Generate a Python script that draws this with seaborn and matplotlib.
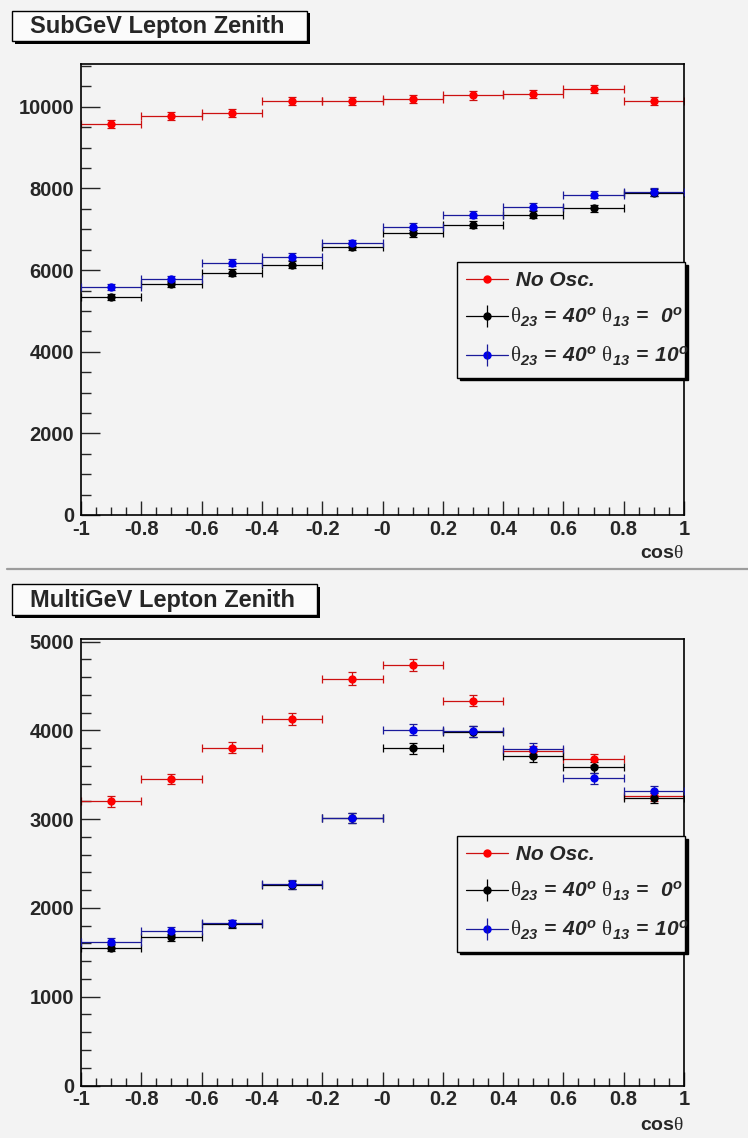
import numpy as np
import pandas as pd
import matplotlib
matplotlib.use("Agg")
import matplotlib.pyplot as plt
import seaborn as sns
from matplotlib.lines import Line2D
from matplotlib.patches import Rectangle
from matplotlib.ticker import FixedLocator, MultipleLocator, FixedFormatter
from matplotlib.font_manager import FontProperties

# ---------------- data ----------------
bin_centers = [-0.9, -0.7, -0.5, -0.3, -0.1, 0.1, 0.3, 0.5, 0.7, 0.9]
bin_half_width = 0.1
x_ticks = [-1.0, -0.8, -0.6, -0.4, -0.2, 0.0, 0.2, 0.4, 0.6, 0.8, 1.0]
x_tick_labels = ["-1", "-0.8", "-0.6", "-0.4", "-0.2", "-0", "0.2", "0.4", "0.6", "0.8", "1"]

sub_noosc = [9570, 9775, 9860, 10150, 10150, 10200, 10280, 10320, 10430, 10140]
sub_noosc_err = [98, 99, 99, 101, 101, 101, 101, 102, 102, 101]
sub_t13_0 = [5330, 5650, 5940, 6135, 6570, 6900, 7115, 7360, 7510, 7900]
sub_t13_0_err = [73, 75, 77, 78, 81, 83, 84, 86, 87, 89]
sub_t13_10 = [5590, 5780, 6185, 6330, 6660, 7060, 7360, 7550, 7850, 7915]
sub_t13_10_err = [75, 76, 79, 80, 82, 84, 86, 87, 89, 89]

multi_noosc = [3200, 3455, 3805, 4130, 4585, 4735, 4337, 3765, 3675, 3262]
multi_noosc_err = [57, 59, 62, 64, 68, 69, 66, 61, 61, 57]
multi_t13_0 = [1550, 1670, 1820, 2260, 3010, 3800, 3985, 3710, 3585, 3240]
multi_t13_0_err = [39, 41, 43, 48, 55, 62, 63, 61, 60, 57]
multi_t13_10 = [1620, 1740, 1825, 2265, 3015, 4010, 3990, 3795, 3460, 3320]
multi_t13_10_err = [40, 42, 43, 48, 55, 63, 63, 62, 59, 58]

titles = ["SubGeV Lepton Zenith", "MultiGeV Lepton Zenith"]
legend_labels = [
    " No Osc.",
    r"$\mathrm{\theta}_{\mathbf{23}}\mathbf{\,=\,40^{o}}\ \mathrm{\theta}_{\mathbf{13}}\mathbf{\,=\,\ 0^{o}}$",
    r"$\mathrm{\theta}_{\mathbf{23}}\mathbf{\,=\,40^{o}}\ \mathrm{\theta}_{\mathbf{13}}\mathbf{\,=\,10^{o}}$",
]

# ---------------- style ----------------
sns.set_style("white")
BG = "#f3f3f3"
plt.rcParams["font.family"] = ["Liberation Sans", "DejaVu Sans"]
plt.rcParams["mathtext.fontset"] = "custom"
plt.rcParams["mathtext.rm"] = "Liberation Serif"
plt.rcParams["mathtext.bf"] = "Liberation Sans:bold:italic"
plt.rcParams["mathtext.sf"] = "Liberation Sans:bold"
plt.rcParams["mathtext.it"] = "Liberation Sans:italic:bold"

W, H = 748, 1138
fig = plt.figure(figsize=(W / 100, H / 100), dpi=100, facecolor=BG)

series_colors = [("#ff0000", "#cc1010"), ("#000000", "#000000"), ("#0000ee", "#1a1a9a")]

panels = [
    dict(top=64, bottom=515, ymax=11050, major=2000, minor=500,
         series=[(sub_noosc, sub_noosc_err), (sub_t13_0, sub_t13_0_err), (sub_t13_10, sub_t13_10_err)],
         title_box=(12, 11, 307, 41), legend_top=262, xlabel_y=553),
    dict(top=639, bottom=1085.5, ymax=5030, major=1000, minor=200,
         series=[(multi_noosc, multi_noosc_err), (multi_t13_0, multi_t13_0_err), (multi_t13_10, multi_t13_10_err)],
         title_box=(12, 584, 317, 615), legend_top=836, xlabel_y=1125),
]

tick_font = FontProperties(family="Liberation Sans", weight="bold", size=14.5)
leg_font = FontProperties(family="Liberation Sans", weight="bold", style="italic", size=15)

for pi, p in enumerate(panels):
    ax = fig.add_axes([81 / W, 1 - p["bottom"] / H, 603 / W, (p["bottom"] - p["top"]) / H])
    ax.set_facecolor(BG)
    for k, (vals, errs) in enumerate(p["series"]):
        mcol, lcol = series_colors[k]
        ax.errorbar(bin_centers, vals, xerr=bin_half_width, yerr=errs, fmt="none",
                    ecolor=lcol, elinewidth=0.9, capsize=2.8, capthick=0.9, zorder=2 + k)
        df = pd.DataFrame({"x": bin_centers, "y": vals})
        sns.scatterplot(data=df, x="x", y="y", ax=ax, color=mcol, s=36, linewidth=0,
                        legend=False, zorder=5 + k)
    ax.set_xlim(-1, 1)
    ax.set_ylim(0, p["ymax"])
    ax.set_xlabel("")
    ax.set_ylabel("")
    ax.xaxis.set_major_locator(FixedLocator(x_ticks))
    ax.xaxis.set_major_formatter(FixedFormatter(x_tick_labels))
    ax.xaxis.set_minor_locator(MultipleLocator(0.05))
    ax.yaxis.set_major_locator(MultipleLocator(p["major"]))
    ax.yaxis.set_minor_locator(MultipleLocator(p["minor"]))
    ax.tick_params(axis="x", which="major", direction="in", length=10, width=1, pad=3.5,
                   top=False, bottom=True)
    ax.tick_params(axis="x", which="minor", direction="in", length=5.5, width=1,
                   top=False, bottom=True)
    ax.tick_params(axis="y", which="major", direction="in", length=13.5, width=1, pad=5,
                   right=False, left=True)
    ax.tick_params(axis="y", which="minor", direction="in", length=7, width=1,
                   right=False, left=True)
    for lab in ax.get_xticklabels() + ax.get_yticklabels():
        lab.set_fontproperties(tick_font)
    for s in ax.spines.values():
        s.set_color("black")
        s.set_linewidth(1.2)
        s.set_visible(True)

    # x-axis title
    fig.text(684 / W, 1 - p["xlabel_y"] / H, r"$\mathsf{cos}\mathrm{\theta}$", ha="right", va="center",
             fontsize=14)

    # legend
    handles = []
    for k in range(3):
        mcol, lcol = series_colors[k]
        base = Line2D([0], [0], color=lcol, lw=0.9, marker="o", ms=5, mfc=mcol, mec=mcol)
        if k == 0:
            handles.append(base)
        else:
            vert = Line2D([0], [0], color=lcol, ls="none", marker="|", ms=16, mew=0.9)
            handles.append((base, vert))
    lt = p["legend_top"]
    leg_h = 112
    leg = ax.legend(handles, legend_labels, prop=leg_font, loc="upper left",
                    bbox_to_anchor=(457 / W, 1 - (lt + leg_h) / H, 228 / W, leg_h / H),
                    bbox_transform=fig.transFigure, mode="expand", borderaxespad=0,
                    frameon=True, fancybox=False, facecolor=BG, edgecolor="black", framealpha=1,
                    shadow={"color": "black", "alpha": 1}, handlelength=2.0, handletextpad=0.1,
                    labelspacing=0.75, borderpad=0.45)
    leg.get_frame().set_linewidth(1.0)

    # title box
    x0, y0, x1, y1 = p["title_box"]
    fig.add_artist(Rectangle((x0 / W + 2.5 / W, 1 - (y1 + 2.5) / H), (x1 - x0) / W, (y1 - y0) / H,
                             transform=fig.transFigure, facecolor="black", edgecolor="black", lw=0))
    fig.add_artist(Rectangle((x0 / W, 1 - y1 / H), (x1 - x0) / W, (y1 - y0) / H,
                             transform=fig.transFigure, facecolor="#fbfbfb", edgecolor="black", lw=1))
    fig.text((x0 + 18) / W, 1 - ((y0 + y1) / 2 + 0.5) / H, titles[pi], ha="left", va="center",
             fontsize=17, fontweight="bold", family="Liberation Sans")

# pad separator
fig.add_artist(Line2D([7 / W, 1], [1 - 569 / H, 1 - 569 / H], transform=fig.transFigure,
                      color="#9c9c9c", lw=1.6))

fig.savefig("out.png", dpi=100, facecolor=BG)
